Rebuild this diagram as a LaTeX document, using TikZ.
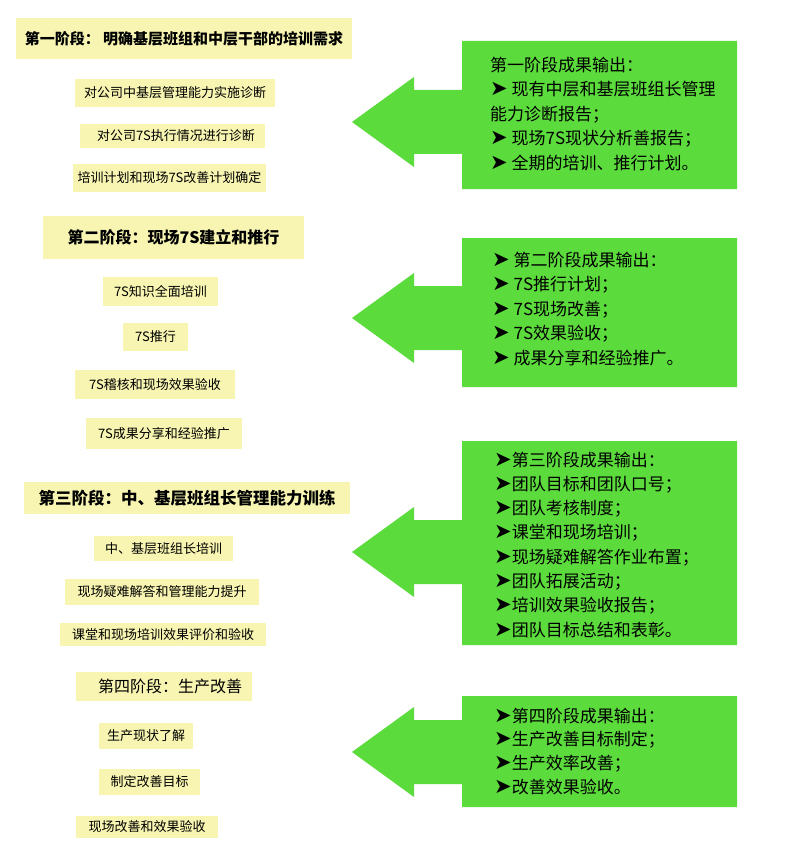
\documentclass[tikz,border=0pt]{standalone}
\usepackage{fontspec}
\setmainfont{Noto Sans CJK SC}
\newfontfamily\symfont{DejaVu Sans}
\usepackage{tikz}
\usetikzlibrary{positioning}
\definecolor{stageyellow}{RGB}{247,245,177}
\definecolor{outgreen}{RGB}{91,219,60}
\tikzstyle{stagehead}=[
  fill=stageyellow, inner sep=0pt, font=\fontsize{16}{16}\selectfont\bfseries
]
\tikzstyle{taskbox}=[
  fill=stageyellow, inner sep=0pt, font=\fontsize{13}{13}\selectfont
]
\tikzstyle{outtext}=[
  anchor=north west, inner sep=0pt, align=left
]
\newcommand{\pointer}[0]{{\symfont\fontsize{21}{21}\selectfont ➤}}
% #1 centre of the arrow head, #2 and #3 top and bottom of the box
\newcommand{\outarrow}[3]{
  \fill [outgreen] (352,#1) -- (414,#1-45) -- (414,#1-32) -- (462,#1-32)
    -- (462,#2) -- (737,#2) -- (737,#3) -- (462,#3) -- (462,#1+32)
    -- (414,#1+32) -- (414,#1+45) -- cycle;
}

\begin{document}
\begin{tikzpicture}[x=1pt,y=-1pt]
  \useasboundingbox (0,0) rectangle (800,853);
  \fill [white] (0,0) rectangle (800,853);

  \outarrow{122}{41}{189}
  \outarrow{318}{238}{387}
  \outarrow{552}{441}{645}
  \outarrow{752}{696}{807}

  \node (h1) at (184, 38.5) [stagehead, minimum width=336pt, minimum height=41pt, font=\fontsize{15}{15}\selectfont\bfseries] {第一阶段： 明确基层班组和中层干部的培训需求};
  \node (t11) at (175, 93) [taskbox, minimum width=200pt, minimum height=28pt] {对公司中基层管理能力实施诊断};
  \node (t12) at (172.5, 136) [taskbox, minimum width=185pt, minimum height=24pt] {\hspace{7pt}对公司7S执行情况进行诊断};
  \node (t13) at (169.5, 178) [taskbox, minimum width=193pt, minimum height=28pt] {培训计划和现场7S改善计划确定};

  \node (h2) at (173.5, 237.5) [stagehead, minimum width=261pt, minimum height=43pt] {第二阶段：现场7S建立和推行};
  \node (t21) at (160.5, 291.5) [taskbox, minimum width=115pt, minimum height=29pt] {7S知识全面培训};
  \node (t22) at (155.5, 337) [taskbox, minimum width=65pt, minimum height=28pt] {7S推行};
  \node (t23) at (155, 384.5) [taskbox, minimum width=160pt, minimum height=29pt] {7S稽核和现场效果验收};
  \node (t24) at (164, 433.5) [taskbox, minimum width=156pt, minimum height=31pt] {7S成果分享和经验推广};

  \node (h3) at (187, 498) [stagehead, minimum width=326pt, minimum height=32pt, font=\fontsize{16.5}{16.5}\selectfont\bfseries] {第三阶段：中、基层班组长管理能力训练};
  \node (t31) at (163.5, 548.5) [taskbox, minimum width=139pt, minimum height=25pt] {中、基层班组长培训};
  \node (t32) at (162, 592) [taskbox, minimum width=194pt, minimum height=26pt] {现场疑难解答和管理能力提升};
  \node (t33) at (163, 634.5) [taskbox, minimum width=206pt, minimum height=23pt] {课堂和现场培训效果评价和验收};

  \node (h4) at (164, 686.5) [stagehead, minimum width=176pt, minimum height=29pt, font=\fontsize{16}{16}\selectfont] {\hspace{12pt}第四阶段：生产改善};
  \node (t41) at (146, 736) [taskbox, minimum width=94pt, minimum height=26pt] {生产现状了解};
  \node (t42) at (149.5, 782) [taskbox, minimum width=101pt, minimum height=26pt] {制定改善目标};
  \node (t43) at (147, 827) [taskbox, minimum width=142pt, minimum height=22pt] {现场改善和效果验收};

  \node (o1) at (490, 56.5) [outtext, font=\fontsize{17}{24.5}\selectfont] {第一阶段成果输出：\\
    \pointer{} 现有中层和基层班组长管理\\
    能力诊断报告；\\
    \pointer{} 现场7S现状分析善报告；\\
    \pointer{} 全期的培训、推行计划。};
  \node (o2) at (492, 251.5) [outtext, font=\fontsize{17}{24.5}\selectfont] {\pointer{} 第二阶段成果输出：\\
    \pointer{} 7S推行计划；\\
    \pointer{} 7S现场改善；\\
    \pointer{} 7S效果验收；\\
    \pointer{} 成果分享和经验推广。};
  \node (o3) at (494, 451.5) [outtext, font=\fontsize{17}{24.3}\selectfont] {\pointer{}第三阶段成果输出：\\
    \pointer{}团队目标和团队口号；\\
    \pointer{}团队考核制度；\\
    \pointer{}课堂和现场培训；\\
    \pointer{}现场疑难解答作业布置；\\
    \pointer{}团队拓展活动；\\
    \pointer{}培训效果验收报告；\\
    \pointer{}团队目标总结和表彰。};
  \node (o4) at (494, 707.5) [outtext, font=\fontsize{17}{23.7}\selectfont] {\pointer{}第四阶段成果输出：\\
    \pointer{}生产改善目标制定；\\
    \pointer{}生产效率改善；\\
    \pointer{}改善效果验收。};
\end{tikzpicture}
\end{document}
